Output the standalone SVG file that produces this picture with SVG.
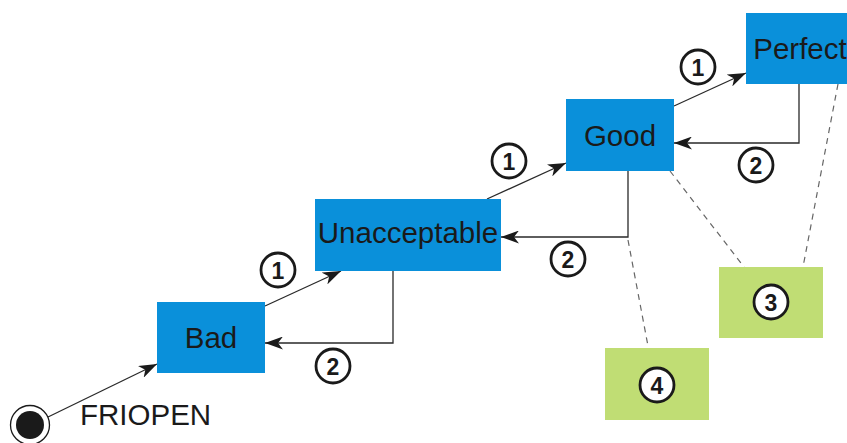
<svg xmlns="http://www.w3.org/2000/svg" width="847" height="443" viewBox="0 0 847 443">
<defs>
<style>
.st{fill:#0A90DA;}
.gr{fill:#C0DD74;}
.lbl{font-family:"Liberation Sans",Arial,sans-serif;font-size:29.5px;fill:#1a1a1a;text-anchor:middle;}
.num circle{fill:#fff;stroke:#1a1a1a;stroke-width:2.8;}
.num text{font-family:"Liberation Sans",Arial,sans-serif;font-size:23px;font-weight:bold;fill:#1a1a1a;text-anchor:middle;}
.ln{fill:none;stroke:#2a2a2a;stroke-width:1.3;}
.arr{marker-end:url(#ah);}
.dash{fill:none;stroke:#666;stroke-width:1.2;stroke-dasharray:6 5;}
</style>
<marker id="ah" viewBox="0 0 18 13" refX="18" refY="6.5" markerWidth="18" markerHeight="13" markerUnits="userSpaceOnUse" orient="auto">
<path d="M0,0 L18,6.5 L0,13 L5,6.5 Z" fill="#1a1a1a"/>
</marker>
</defs>
<rect width="847" height="443" fill="#fff"/>
<g id="connectors">
<line class="ln arr" x1="48" y1="417" x2="157" y2="364"/>
<line class="ln arr" x1="265" y1="306" x2="341" y2="271"/>
<polyline class="ln arr" points="393,271 393,343 265,343"/>
<line class="ln arr" x1="487" y1="199" x2="566" y2="163"/>
<polyline class="ln arr" points="628,171 628,237 501,237"/>
<line class="ln arr" x1="674" y1="106" x2="746" y2="73"/>
<polyline class="ln arr" points="799,84 799,143 674,143"/>
<line class="dash" x1="670" y1="171" x2="744" y2="267"/>
<line class="dash" x1="838" y1="84" x2="803" y2="267"/>
<line class="dash" x1="628" y1="240" x2="648" y2="346"/>
</g>
<g id="start">
<circle cx="30" cy="425" r="19.5" fill="#fff" stroke="#1a1a1a" stroke-width="1.3"/>
<circle cx="30" cy="425" r="14" fill="#1a1a1a"/>
<text x="80" y="425" font-family="Liberation Sans,Arial,sans-serif" font-size="29.5" fill="#1a1a1a">FRIOPEN</text>
</g>
<g id="bad"><rect class="st" x="157" y="302" width="108" height="71"/><text class="lbl" x="211" y="348">Bad</text></g>
<g id="unacceptable"><rect class="st" x="315" y="199" width="186" height="72"/><text class="lbl" x="408" y="243">Unacceptable</text></g>
<g id="good"><rect class="st" x="566" y="99" width="108" height="72"/><text class="lbl" x="620" y="145.5">Good</text></g>
<g id="perfect"><rect class="st" x="746" y="13" width="108" height="71"/><text class="lbl" x="800" y="59">Perfect</text></g>
<g id="box3"><rect class="gr" x="719" y="267" width="104" height="71"/></g>
<g id="box4"><rect class="gr" x="605" y="348" width="104" height="72"/></g>
<g id="labels">
<g class="num"><circle cx="278" cy="270" r="17"/><text x="278" y="278.5">1</text></g>
<g class="num"><circle cx="333" cy="366" r="17"/><text x="333" y="374.5">2</text></g>
<g class="num"><circle cx="509" cy="161" r="17"/><text x="509" y="169.5">1</text></g>
<g class="num"><circle cx="568" cy="259" r="17"/><text x="568" y="267.5">2</text></g>
<g class="num"><circle cx="698" cy="67" r="17"/><text x="698" y="75.5">1</text></g>
<g class="num"><circle cx="756" cy="165" r="17"/><text x="756" y="173.5">2</text></g>
<g class="num"><circle cx="771" cy="302" r="17"/><text x="771" y="310.5">3</text></g>
<g class="num"><circle cx="657" cy="385" r="17"/><text x="657" y="393.5">4</text></g>
</g>
</svg>
